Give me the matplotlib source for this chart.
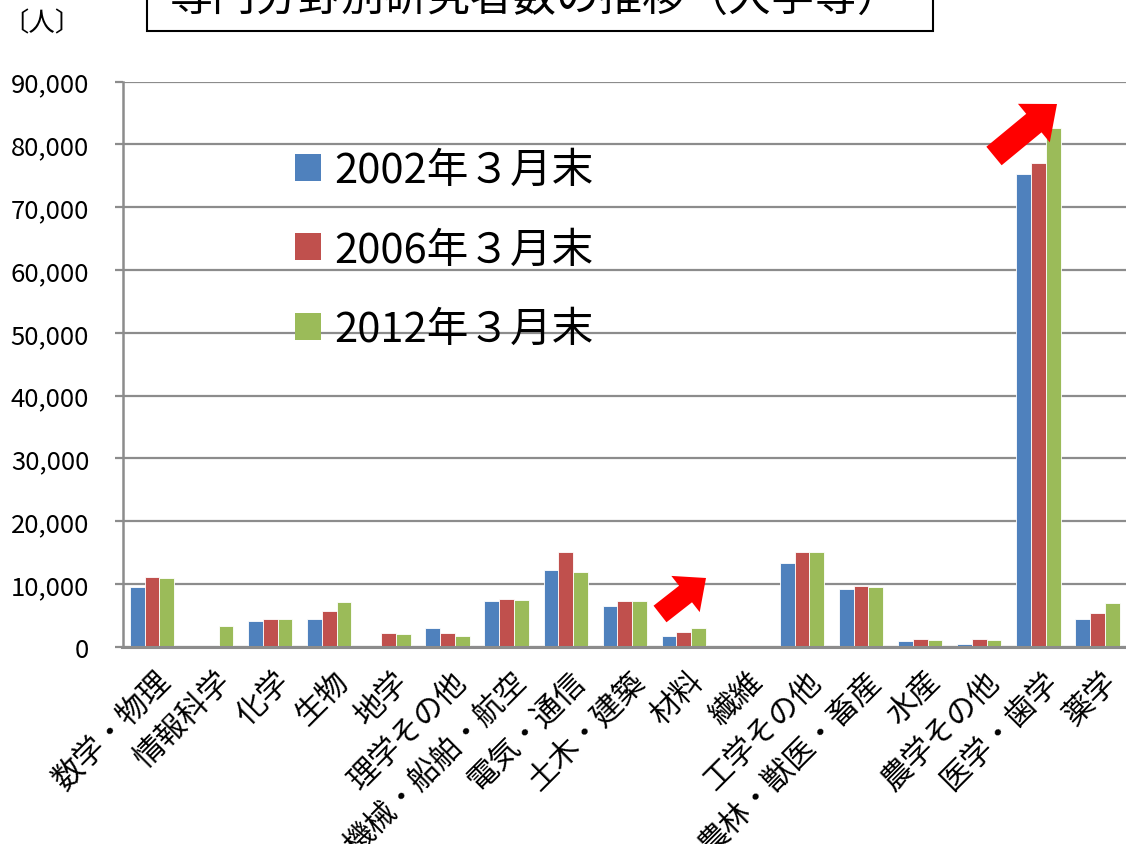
import numpy as np
import matplotlib
matplotlib.use("Agg")
import matplotlib.pyplot as plt
from matplotlib.patches import Patch, Rectangle, FancyArrow
from matplotlib.ticker import FuncFormatter, MultipleLocator
from matplotlib.transforms import IdentityTransform, ScaledTranslation

plt.rcParams['font.family'] = ['Noto Sans CJK JP', 'DejaVu Sans']

categories = ['数学・物理', '情報科学', '化学', '生物', '地学', '理学その他',
              '機械・船舶・航空', '電気・通信', '土木・建築', '材料', '繊維',
              '工学その他', '農林・獣医・畜産', '水産', '農学その他', '医学・歯学', '薬学']
series_labels = ['2002年３月末', '2006年３月末', '2012年３月末']
y2002 = [9500, 0, 4000, 4400, 0, 3000, 7300, 12250, 6400, 1700, 0,
         13300, 9100, 950, 480, 75350, 4450]
y2006 = [11100, 0, 4400, 5750, 2150, 2200, 7550, 15100, 7250, 2400, 200,
         15000, 9700, 1150, 1150, 77050, 5350]
y2012 = [10950, 3300, 4350, 7100, 2000, 1700, 7400, 11850, 7250, 2900, 150,
         15150, 9500, 1000, 1000, 82650, 7000]
colors = ['#4F81BD', '#C0504D', '#9BBB59']
title = '専門分野別研究者数の推移（大学等）'
unit_label = '〔人〕'

W, H = 1126, 845
fig = plt.figure(figsize=(W / 100, H / 100), dpi=100)

ax_left, ax_right = 122.5, 1127.0
ax_bottom, ax_top = 647.6, 82.7
ax = fig.add_axes([ax_left / W, 1 - ax_bottom / H,
                   (ax_right - ax_left) / W, (ax_bottom - ax_top) / H])

x = np.arange(len(categories))
bw = 0.25
for k, (vals, c, lab) in enumerate(zip([y2002, y2006, y2012], colors, series_labels)):
    ax.bar(x + (k - 1) * bw, vals, width=bw, color=c, edgecolor='white',
           linewidth=0.6, zorder=2, label=lab)

ax.set_xlim(-0.5, len(categories) - 0.5)
ax.set_ylim(0, 90000)
ax.yaxis.set_major_locator(MultipleLocator(10000))
ax.yaxis.set_major_formatter(FuncFormatter(lambda v, p: f'{int(v):,}'))
ax.grid(axis='y', color='#8C8C8C', linewidth=1.6, zorder=0)
ax.set_axisbelow(True)
for s in ['top', 'right']:
    ax.spines[s].set_visible(False)
ax.spines['left'].set_color('#8C8C8C')
ax.spines['left'].set_linewidth(1.8)
ax.spines['bottom'].set_color('#8C8C8C')
ax.spines['bottom'].set_linewidth(2.2)
ax.tick_params(axis='y', direction='out', length=6, width=1.6, color='#8C8C8C',
               labelsize=18.5, pad=18)
ax.tick_params(axis='x', length=0, pad=10)
ax.set_xticks(x)
ax.set_xticklabels(categories, rotation=45, ha='right', va='top',
                   rotation_mode='anchor', fontsize=22)
offset = ScaledTranslation(4 / 100, -5 / 100, fig.dpi_scale_trans)
for lbl in ax.get_xticklabels():
    lbl.set_transform(lbl.get_transform() + offset)

handles = [Patch(facecolor=c, edgecolor='none') for c in colors]
leg = ax.legend(handles, series_labels, loc='upper left',
                bbox_to_anchor=(295 / W, 1 - 151 / H), bbox_transform=fig.transFigure,
                frameon=False, fontsize=30, handlelength=0.62, handleheight=0.62,
                handletextpad=0.32, labelspacing=0.92, borderpad=0, borderaxespad=0)

# title box (cut off at top of the image)
fig.patches.append(Rectangle((147 / W, 1 - 32 / H), (933 - 147) / W, 60 / H,
                             transform=fig.transFigure, facecolor='white',
                             edgecolor='black', linewidth=1.5))
fig.text(535 / W, 1 + 0 / H, title, ha='center', va='center', fontsize=31)
fig.text(42 / W, 1 - 24 / H, unit_label, ha='center', va='center', fontsize=19)

# red arrows
def arrow(x0, y0, x1, y1, body, head_w, head_l):
    a = FancyArrow(x0, H - y0, x1 - x0, -(y1 - y0), width=body, head_width=head_w,
                   head_length=head_l, length_includes_head=True,
                   transform=IdentityTransform(), facecolor='#FF0000',
                   edgecolor='none')
    fig.patches.append(a)

arrow(660, 615, 706, 579, 21, 46, 26)
arrow(994, 157, 1057, 105, 24, 50, 30)

fig.savefig('out.png', dpi=100)
